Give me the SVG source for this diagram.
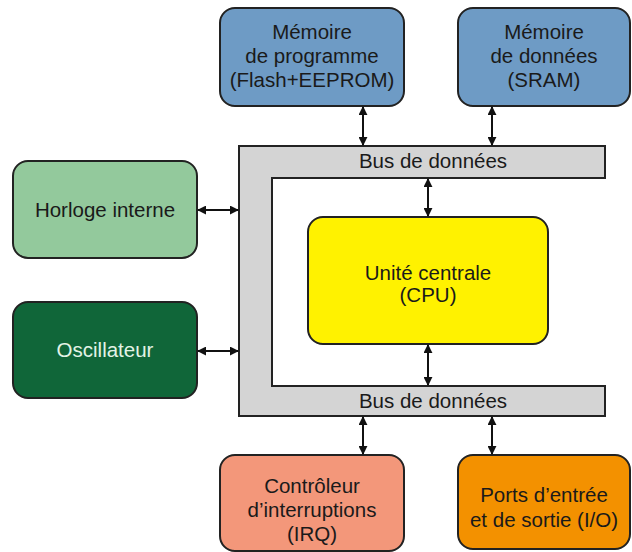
<svg xmlns="http://www.w3.org/2000/svg" width="632" height="552" viewBox="0 0 632 552">
<defs>
<marker id="ah" viewBox="0 0 10 10" refX="9" refY="5" markerWidth="9" markerHeight="9" markerUnits="userSpaceOnUse" orient="auto-start-reverse">
<path d="M0,0 L10,5 L0,10 z" fill="#111"/>
</marker>
<style>
.box{stroke:#222;stroke-width:2}
.t{font-family:"Liberation Sans",Arial,sans-serif;font-size:20.5px;fill:#1a1a1a;text-anchor:middle}
.c{stroke:#111;stroke-width:2;fill:none;marker-start:url(#ah);marker-end:url(#ah)}
</style>
</defs>
<rect width="632" height="552" fill="#fff"/>
<g id="bus">
<path class="box" fill="#d4d4d4" d="M239,146 H605 V178 H272 V386 H605 V416 H239 Z"/>
<text class="t" x="433" y="168">Bus de données</text>
<text class="t" x="433" y="408">Bus de données</text>
</g>
<g id="mem-prog">
<rect class="box" x="220" y="8" width="184" height="98" rx="15" fill="#6e9bc5"/>
<text class="t" x="312" y="39">Mémoire</text>
<text class="t" x="312" y="63">de programme</text>
<text class="t" x="312" y="87">(Flash+EEPROM)</text>
</g>
<g id="mem-data">
<rect class="box" x="458" y="8" width="172" height="98" rx="15" fill="#6e9bc5"/>
<text class="t" x="544" y="39">Mémoire</text>
<text class="t" x="544" y="63">de données</text>
<text class="t" x="544" y="87">(SRAM)</text>
</g>
<g id="horloge">
<rect class="box" x="13" y="161" width="184" height="97" rx="15" fill="#93c99c"/>
<text class="t" x="105" y="217">Horloge interne</text>
</g>
<g id="oscillateur">
<rect class="box" x="13" y="302" width="184" height="96" rx="15" fill="#106639"/>
<text class="t" x="105" y="357" style="fill:#e3f3e6">Oscillateur</text>
</g>
<g id="cpu">
<rect class="box" x="308" y="217" width="240" height="127" rx="15" fill="#fff200"/>
<text class="t" x="428" y="280">Unité centrale</text>
<text class="t" x="428" y="302">(CPU)</text>
</g>
<g id="irq">
<rect class="box" x="220" y="455" width="184" height="96" rx="15" fill="#f3977a"/>
<text class="t" x="312" y="493">Contrôleur</text>
<text class="t" x="312" y="517">d’interruptions</text>
<text class="t" x="312" y="541">(IRQ)</text>
</g>
<g id="io">
<rect class="box" x="458" y="455" width="172" height="94" rx="15" fill="#f39100"/>
<text class="t" x="544" y="502">Ports d’entrée</text>
<text class="t" x="544" y="527">et de sortie (I/O)</text>
</g>
<g id="connectors">
<line class="c" x1="363" y1="107" x2="363" y2="145"/>
<line class="c" x1="492" y1="107" x2="492" y2="145"/>
<line class="c" x1="428" y1="179" x2="428" y2="216"/>
<line class="c" x1="428" y1="345" x2="428" y2="385"/>
<line class="c" x1="198" y1="210" x2="238" y2="210"/>
<line class="c" x1="198" y1="351" x2="238" y2="351"/>
<line class="c" x1="363" y1="417" x2="363" y2="454"/>
<line class="c" x1="492" y1="417" x2="492" y2="454"/>
</g>
</svg>
